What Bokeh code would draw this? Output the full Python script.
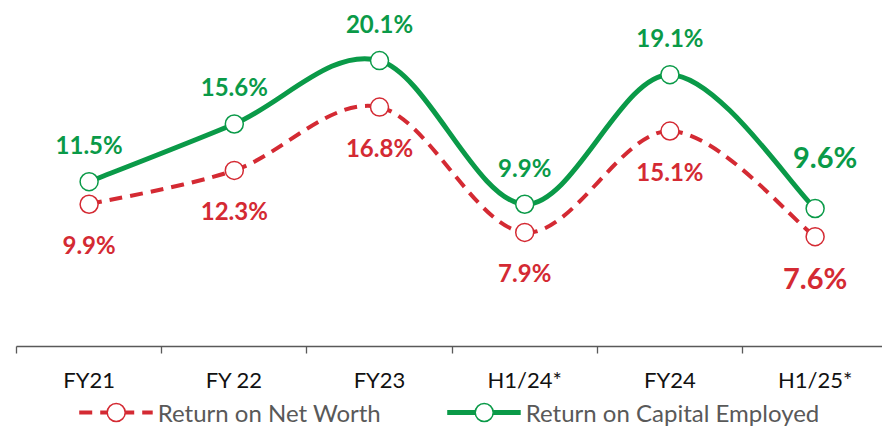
from bokeh.plotting import figure
from bokeh.layouts import column
from bokeh.models import Range1d, FixedTicker, Legend, LegendItem, ColumnDataSource
from bokeh.core.properties import value
from bokeh.embed import file_html
from bokeh.resources import INLINE

# ---- data ----
categories = ["FY21", "FY 22", "FY23", "H1/24*", "FY24", "H1/25*"]
ronw = [9.9, 12.3, 16.8, 7.9, 15.1, 7.6]     # Return on Net Worth (%)
roce = [11.5, 15.6, 20.1, 9.9, 19.1, 9.6]    # Return on Capital Employed (%)
series_names = ["Return on Net Worth", "Return on Capital Employed"]

GREEN = "#0A9A48"
RED = "#D42A33"
AXIS = "#595959"
FONT = "Lato"

xs = [i + 0.5 for i in range(len(categories))]


def smooth_source(x, y):
    """Excel-style smoothed line: cubic Bezier segments through the data points."""
    n = len(x)
    pts = list(zip(x, y))

    def pt(i):
        return pts[min(max(i, 0), n - 1)]

    d = dict(x0=[], y0=[], x1=[], y1=[], cx0=[], cy0=[], cx1=[], cy1=[])
    for i in range(n - 1):
        p0, p1, p2, p3 = pt(i - 1), pt(i), pt(i + 1), pt(i + 2)
        d["x0"].append(p1[0]); d["y0"].append(p1[1])
        d["x1"].append(p2[0]); d["y1"].append(p2[1])
        d["cx0"].append(p1[0] + (p2[0] - p0[0]) / 6)
        d["cy0"].append(p1[1] + (p2[1] - p0[1]) / 6)
        d["cx1"].append(p2[0] - (p3[0] - p1[0]) / 6)
        d["cy1"].append(p2[1] - (p3[1] - p1[1]) / 6)
    return ColumnDataSource(d)


p = figure(frame_width=866, frame_height=338,
           x_range=Range1d(0, 5.964), y_range=Range1d(-0.2, 23.8),
           output_backend="svg", toolbar_location=None,
           y_axis_location=None,
           min_border_left=16, min_border_right=0, min_border_top=8, min_border_bottom=0)
p.xgrid.visible = False
p.ygrid.visible = False
p.outline_line_color = None
p.background_fill_color = "white"
p.border_fill_color = "white"

# ---- axis ----
ax = p.xaxis[0]
ax.ticker = FixedTicker(ticks=xs, minor_ticks=list(range(len(categories))))
ax.major_label_overrides = {x: c for x, c in zip(xs, categories)}
ax.major_tick_out = 0
ax.major_tick_in = 0
ax.minor_tick_out = 7
ax.minor_tick_in = 0
ax.minor_tick_line_color = AXIS
ax.minor_tick_line_width = 1.3
ax.axis_line_color = AXIS
ax.axis_line_width = 1.3
ax.major_label_standoff = 12
ax.major_label_text_font = FONT
ax.major_label_text_font_size = "22px"
ax.major_label_text_color = "#111111"

# ---- lines ----
red_line_style = dict(line_color=RED, line_width=4, line_dash="13 8")
green_line_style = dict(line_color=GREEN, line_width=5)
red_pt_style = dict(marker="circle", size=18, fill_color="white", line_color=RED, line_width=1.5)
green_pt_style = dict(marker="circle", size=18, fill_color="white", line_color=GREEN, line_width=1.5)

p.bezier(x0="x0", y0="y0", x1="x1", y1="y1", cx0="cx0", cy0="cy0",
         cx1="cx1", cy1="cy1", source=smooth_source(xs, ronw), **red_line_style)
p.bezier(x0="x0", y0="y0", x1="x1", y1="y1", cx0="cx0", cy0="cy0",
         cx1="cx1", cy1="cy1", source=smooth_source(xs, roce), **green_line_style)
p.scatter(xs, ronw, **red_pt_style)
p.scatter(xs, roce, **green_pt_style)

# ---- data labels ----
lab_ronw = [f"{v:.1f}%" for v in ronw]
lab_roce = [f"{v:.1f}%" for v in roce]

p.text(xs[:-1], roce[:-1], text=lab_roce[:-1], text_color=GREEN,
       text_font=value(FONT), text_font_style="bold", text_font_size="24px",
       text_align="center", text_baseline="middle", y_offset=-37)
p.text(xs[:-1], ronw[:-1], text=lab_ronw[:-1], text_color=RED,
       text_font=value(FONT), text_font_style="bold", text_font_size="24px",
       text_align="center", text_baseline="middle", y_offset=40)
p.text(xs[-1:], roce[-1:], text=lab_roce[-1:], text_color=GREEN,
       text_font=value(FONT), text_font_style="bold", text_font_size="29px",
       text_align="center", text_baseline="middle", y_offset=-52, x_offset=10)
p.text(xs[-1:], ronw[-1:], text=lab_ronw[-1:], text_color=RED,
       text_font=value(FONT), text_font_style="bold", text_font_size="29px",
       text_align="center", text_baseline="middle", y_offset=41)

# ---- legend (own strip below the chart; hidden copies of the series supply the glyphs) ----
lg = figure(width=882, height=34, x_range=Range1d(0, 1), y_range=Range1d(0, 1),
            output_backend="svg", toolbar_location=None,
            x_axis_location=None, y_axis_location=None,
            min_border=0, outline_line_color=None)
lg.xgrid.visible = False
lg.ygrid.visible = False
lr = lg.line(x=xs, y=ronw, visible=False, **red_line_style)
lrp = lg.scatter(x=xs, y=ronw, visible=False, **red_pt_style)
lgr = lg.line(x=xs, y=roce, visible=False, **green_line_style)
lgp = lg.scatter(x=xs, y=roce, visible=False, **green_pt_style)

legend = Legend(items=[
    LegendItem(label=series_names[0], renderers=[lr, lrp]),
    LegendItem(label=series_names[1], renderers=[lgr, lgp]),
], orientation="horizontal", location="center",
    glyph_width=74, glyph_height=45, label_standoff=5, spacing=66,
    label_text_font=FONT, label_text_font_size="24px", label_text_color=AXIS,
    border_line_color=None, background_fill_alpha=0, padding=0, margin=0)
lg.add_layout(legend, "center")

layout = column(p, lg, spacing=0)
open("out.html", "w").write(file_html(layout, INLINE))
